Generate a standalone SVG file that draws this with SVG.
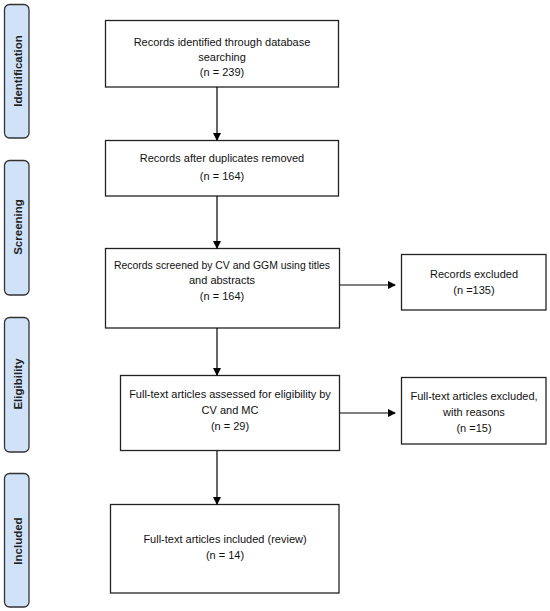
<svg xmlns="http://www.w3.org/2000/svg" width="550" height="611" viewBox="0 0 550 611">
<defs>
<marker id="ah" markerWidth="8" markerHeight="8" refX="7" refY="4" orient="auto" markerUnits="userSpaceOnUse">
<path d="M0,0 L8,4 L0,8 Z" fill="#000"/>
</marker>
<style>
.phase{fill:#cfe2f8;stroke:#333;stroke-width:1.3}
.ptxt{font-family:"Liberation Sans","DejaVu Sans",sans-serif;font-size:11.5px;font-weight:bold;fill:#222;text-anchor:middle}
.box{fill:#fff;stroke:#222;stroke-width:1.3}
.t{font-family:"Liberation Sans","DejaVu Sans",sans-serif;font-size:11px;fill:#111;text-anchor:middle}
.c{stroke:#000;stroke-width:1.2;fill:none;marker-end:url(#ah)}
</style>
</defs>
<rect width="550" height="611" fill="#fff"/>
<g id="phase-identification"><rect class="phase" x="4.5" y="4.5" width="24.5" height="133.5" rx="5"/><text class="ptxt" transform="translate(21.5,71) rotate(-90)">Identification</text></g>
<g id="phase-screening"><rect class="phase" x="4.5" y="160.5" width="24.5" height="134.5" rx="5"/><text class="ptxt" transform="translate(21.5,227) rotate(-90)">Screening</text></g>
<g id="phase-eligibility"><rect class="phase" x="4.5" y="317.5" width="24.5" height="134.5" rx="5"/><text class="ptxt" transform="translate(21.5,384) rotate(-90)">Eligibility</text></g>
<g id="phase-included"><rect class="phase" x="4.5" y="473.5" width="24.5" height="133.5" rx="5"/><text class="ptxt" transform="translate(21.5,541) rotate(-90)">Included</text></g>

<g id="n1"><rect class="box" x="105.5" y="20.5" width="233" height="66.5"/>
<text class="t" x="222" y="46">Records identified through database</text>
<text class="t" x="222" y="61">searching</text>
<text class="t" x="222" y="76">(n = 239)</text></g>
<g id="n2"><rect class="box" x="105.5" y="140.5" width="233" height="55.5"/>
<text class="t" x="222" y="162">Records after duplicates removed</text>
<text class="t" x="222" y="180">(n = 164)</text></g>
<g id="n3"><rect class="box" x="105.5" y="248.5" width="234" height="79.5"/>
<text class="t" x="222" y="269" textLength="216" lengthAdjust="spacingAndGlyphs">Records screened by CV and GGM using titles</text>
<text class="t" x="222" y="284">and abstracts</text>
<text class="t" x="222" y="300">(n = 164)</text></g>
<g id="n4"><rect class="box" x="401.5" y="254.5" width="144.5" height="55.5"/>
<text class="t" x="474" y="278">Records excluded</text>
<text class="t" x="474" y="294">(n =135)</text></g>
<g id="n5"><rect class="box" x="120.5" y="375.5" width="219" height="75"/>
<text class="t" x="230" y="398">Full-text articles assessed for eligibility by</text>
<text class="t" x="230" y="414">CV and MC</text>
<text class="t" x="230" y="430">(n = 29)</text></g>
<g id="n6"><rect class="box" x="401.5" y="377.5" width="144.5" height="66.5"/>
<text class="t" x="474" y="400">Full-text articles excluded,</text>
<text class="t" x="474" y="416">with reasons</text>
<text class="t" x="474" y="432">(n =15)</text></g>
<g id="n7"><rect class="box" x="110.5" y="504.5" width="228.5" height="88.5"/>
<text class="t" x="225" y="543">Full-text articles included (review)</text>
<text class="t" x="225" y="559">(n = 14)</text></g>

<g id="connectors">
<line class="c" x1="217" y1="87" x2="217" y2="140"/>
<line class="c" x1="217" y1="196" x2="217" y2="248"/>
<line class="c" x1="217" y1="328" x2="217" y2="375"/>
<line class="c" x1="217" y1="451" x2="217" y2="504"/>
<line class="c" x1="340" y1="285" x2="395" y2="285"/>
<line class="c" x1="340" y1="413" x2="395" y2="413"/>
</g>
</svg>
